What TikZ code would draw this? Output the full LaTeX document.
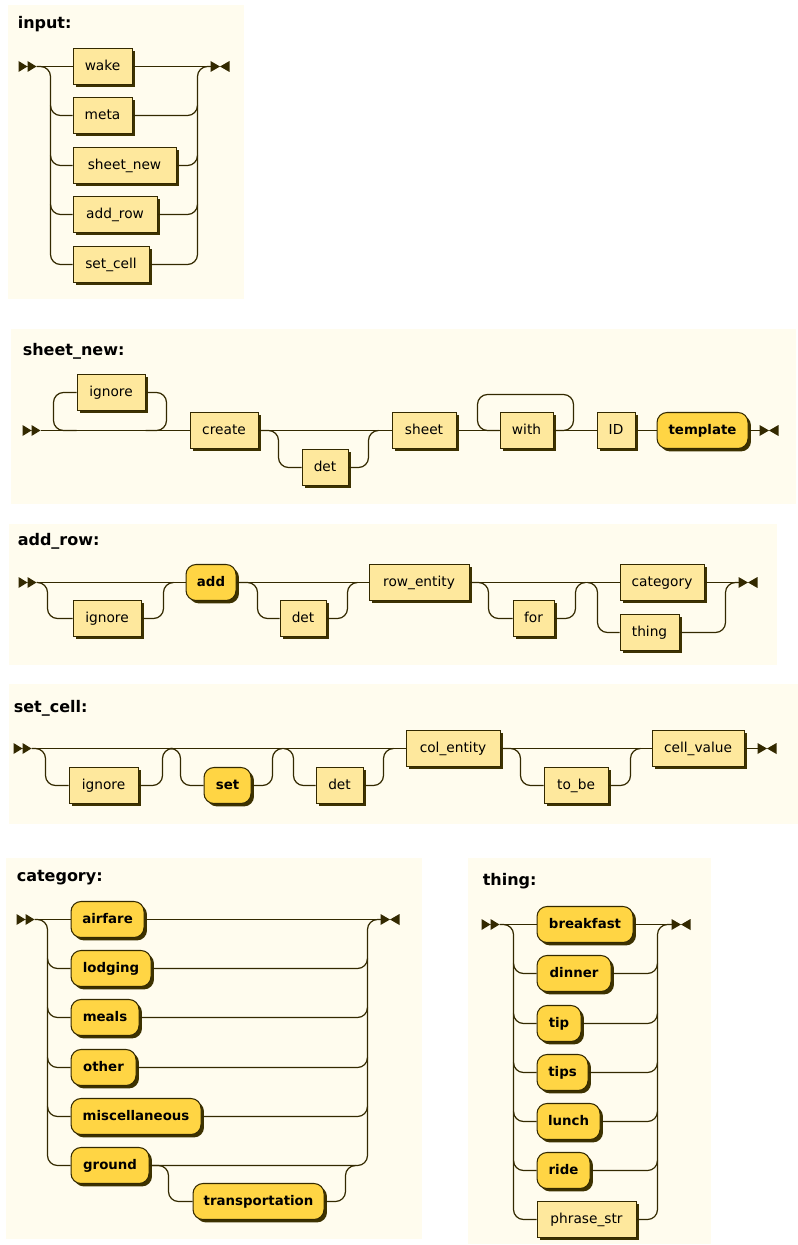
\documentclass[tikz,border=0pt]{standalone}
\usepackage{fontspec}
\setmainfont{DejaVu Sans}
\usepackage{tikz}
\usetikzlibrary{shadows}

\definecolor{bgc}{HTML}{FFFCEE}
\definecolor{linec}{HTML}{332900}
\definecolor{ntc}{HTML}{FEE89D}
\definecolor{termc}{HTML}{FFD544}
\definecolor{shadowc}{HTML}{3D3200}

\tikzset{
  startmark/.pic={\fill[linec] (0,-5.5) -- (9,0) -- (0,5.5) -- cycle (9,-5.5) -- (18,0) -- (9,5.5) -- cycle;
    \coordinate (-out) at (18,0);},
  endmark/.pic={\fill[linec] (0,-5.5) -- (9.5,0) -- (0,5.5) -- cycle (19,-5.5) -- (9.5,0) -- (19,5.5) -- cycle;
    \coordinate (-in) at (0,0);}
}

\begin{document}
\begin{tikzpicture}[x=0.75pt, y=-0.75pt,
  panel/.style={fill=bgc},
  title/.style={anchor=base west, inner sep=0pt, font=\bfseries\fontsize{12}{14}\selectfont},
  rail/.style={draw=linec, line width=0.9pt},
  railr/.style={rail, rounded corners=7.5pt},
  nt/.style={draw=linec, fill=ntc, line width=0.8pt, minimum height=27pt, inner xsep=0pt,
    anchor=west, text height=7.5pt, text depth=2pt, font=\fontsize{10.3}{12}\selectfont,
    general shadow={fill=shadowc, shadow xshift=2.2pt, shadow yshift=-2.2pt}},
  term/.style={nt, fill=termc, rounded corners=7.5pt, font=\bfseries\fontsize{10}{12}\selectfont},
  bw/.style={minimum width=#1*0.75pt}]
\fill[white] (0,0) rectangle (798,1245);
\useasboundingbox (0,0) rectangle (798,1245);
\begin{scope}[shift={(0.5,0.5)}]

% input
\fill[panel] (7,5) rectangle (243,298);
\node[title] at (17,28) {input:};
\pic (inS) at (18,66) {startmark};
\pic (inE) at (210,66) {endmark};
\coordinate (inL) at (50,66);
\coordinate (inR) at (197,66);
\node[nt, bw=59] (wake) at (72,66) {wake};
\node[nt, bw=59] (meta) at (72,115) {meta};
\node[nt, bw=103] (sheetnew) at (72,165) {sheet\_new};
\node[nt, bw=84] (addrow) at (72,214) {add\_row};
\node[nt, bw=76] (setcell) at (72,264) {set\_cell};
\draw[rail] (inS-out) -- (wake.west);
\draw[rail] (wake.east) -- (inE-in);
\draw[railr] (inS-out) -| (inL |- setcell) -- (setcell.west);
\draw[railr] (setcell.east) -| (inR) -- (inE-in);
\draw[railr] (inL |- meta) ++(0,-10) -- (inL |- meta) -- (meta.west);
\draw[railr] (inL |- sheetnew) ++(0,-10) -- (inL |- sheetnew) -- (sheetnew.west);
\draw[railr] (inL |- addrow) ++(0,-10) -- (inL |- addrow) -- (addrow.west);
\draw[railr] (meta.east) -- (inR |- meta) -- ++(0,-10);
\draw[railr] (sheetnew.east) -- (inR |- sheetnew) -- ++(0,-10);
\draw[railr] (addrow.east) -- (inR |- addrow) -- ++(0,-10);

% sheet_new
\fill[panel] (10,328) rectangle (795,503);
\node[title] at (22,355) {sheet\_new:};
\pic (snS) at (22,430) {startmark};
\pic (snE) at (759,430) {endmark};
\coordinate (snL) at (53,430);
\coordinate (snR) at (166,430);
\coordinate (snA) at (278,430);
\coordinate (snB) at (368,430);
\coordinate (snWL) at (477,394);
\coordinate (snWR) at (573,394);
\node[nt, bw=68] (snIgnore) at (76,392) {ignore};
\node[nt, bw=68] (create) at (189,430) {create};
\node[nt, bw=46] (snDet) at (301,467) {det};
\node[nt, bw=64] (sheet) at (391,430) {sheet};
\node[nt, bw=53] (with) at (499,430) {with};
\node[nt, bw=38] (id) at (596,430) {ID};
\node[term, bw=91] (template) at (656,430) {template};
\draw[rail] (snS-out) -- (create.west);
\draw[railr] (snIgnore.west |- snL) -- (snL) |- (snIgnore.west);
\draw[railr] (snIgnore.east) -| (snR) -- (snIgnore.east |- snR);
\draw[rail] (create.east) -- (sheet.west);
\draw[railr] (create.east) -| (snA |- snDet) -- (snDet.west);
\draw[railr] (snDet.east) -| (snB) -- ++(10,0);
\draw[rail] (sheet.east) -- (with.west);
\draw[railr] (with.west) -| (snWL) -- (snWR) |- (with.east);
\draw[rail] (with.east) -- (id.west);
\draw[rail] (id.east) -- (template.west);
\draw[rail] (template.east) -- (snE-in);

% add_row
\fill[panel] (8,523) rectangle (776,664);
\node[title] at (17,545) {add\_row:};
\pic (arS) at (18,582) {startmark};
\pic (arE) at (738,582) {endmark};
\coordinate (arA) at (47,582);
\coordinate (arB) at (163,582);
\coordinate (arC) at (257,582);
\coordinate (arD) at (347,582);
\coordinate (arF) at (488,582);
\coordinate (arG) at (575,582);
\coordinate (arH) at (597,582);
\coordinate (arK) at (725,582);
\node[nt, bw=68] (arIgnore) at (72,618) {ignore};
\node[term, bw=50] (add) at (185,582) {add};
\node[nt, bw=46] (arDet) at (279,618) {det};
\node[nt, bw=100] (rowentity) at (368,582) {row\_entity};
\node[nt, bw=41] (arFor) at (512,618) {for};
\node[nt, bw=84] (category) at (619,582) {category};
\node[nt, bw=59] (thing) at (619,632) {thing};
\draw[rail] (arS-out) -- (add.west);
\draw[railr] (arS-out) -| (arA |- arIgnore) -- (arIgnore.west);
\draw[railr] (arIgnore.east) -| (arB) -- ++(10,0);
\draw[rail] (add.east) -- (rowentity.west);
\draw[railr] (add.east) -| (arC |- arDet) -- (arDet.west);
\draw[railr] (arDet.east) -| (arD) -- ++(10,0);
\draw[rail] (rowentity.east) -- (category.west);
\draw[railr] (rowentity.east) -| (arF |- arFor) -- (arFor.west);
\draw[railr] (arFor.east) -| (arG) -- ++(10,0);
\draw[railr] (arH) ++(-10,0) -| (arH |- thing) -- (thing.west);
\draw[rail] (category.east) -- (arE-in);
\draw[railr] (thing.east) -| (arK) -- (arE-in);

% set_cell
\fill[panel] (8,683) rectangle (797,823);
\node[title] at (13,712) {set\_cell:};
\pic (scS) at (13,748) {startmark};
\pic (scE) at (757,748) {endmark};
\coordinate (scA) at (45,748);
\coordinate (scB) at (162,748);
\coordinate (scC) at (180,748);
\coordinate (scD) at (272,748);
\coordinate (scF) at (293,748);
\coordinate (scG) at (383,748);
\coordinate (scH) at (520,748);
\coordinate (scK) at (630,748);
\node[nt, bw=69] (scIgnore) at (68,785) {ignore};
\node[term, bw=47] (set) at (203,785) {set};
\node[nt, bw=47] (scDet) at (315,785) {det};
\node[nt, bw=94] (colentity) at (405,748) {col\_entity};
\node[nt, bw=64] (tobe) at (543,785) {to\_be};
\node[nt, bw=92] (cellvalue) at (651,748) {cell\_value};
\draw[rail] (scS-out) -- (colentity.west);
\draw[railr] (scS-out) -| (scA |- scIgnore) -- (scIgnore.west);
\draw[railr] (scIgnore.east) -| (scB) -- ++(8,0);
\draw[railr] (scC) ++(-8,0) -| (scC |- set) -- (set.west);
\draw[railr] (set.east) -| (scD) -- ++(10,0);
\draw[railr] (scF) ++(-10,0) -| (scF |- scDet) -- (scDet.west);
\draw[railr] (scDet.east) -| (scG) -- ++(10,0);
\draw[rail] (colentity.east) -- (cellvalue.west);
\draw[railr] (colentity.east) -| (scH |- tobe) -- (tobe.west);
\draw[railr] (tobe.east) -| (scK) -- ++(10,0);
\draw[rail] (cellvalue.east) -- (scE-in);

% category
\fill[panel] (5,857) rectangle (421,1238);
\node[title] at (16,881) {category:};
\pic (caS) at (16,919) {startmark};
\pic (caE) at (380,919) {endmark};
\coordinate (caL) at (47,919);
\coordinate (caR) at (367,919);
\coordinate (caT) at (168,1165);
\coordinate (caU) at (345,1165);
\node[term, bw=73] (airfare) at (70,919) {airfare};
\node[term, bw=80] (lodging) at (70,968) {lodging};
\node[term, bw=68] (meals) at (70,1017) {meals};
\node[term, bw=65] (other) at (70,1067) {other};
\node[term, bw=130] (misc) at (70,1116) {miscellaneous};
\node[term, bw=78] (ground) at (70,1165) {ground};
\node[term, bw=131] (transp) at (192,1201) {transportation};
\draw[rail] (caS-out) -- (airfare.west);
\draw[rail] (airfare.east) -- (caE-in);
\draw[railr] (caS-out) -| (caL |- ground) -- (ground.west);
\draw[railr] (ground.east) -| (caR) -- (caE-in);
\draw[railr] (caL |- lodging) ++(0,-10) -- (caL |- lodging) -- (lodging.west);
\draw[railr] (caL |- meals) ++(0,-10) -- (caL |- meals) -- (meals.west);
\draw[railr] (caL |- other) ++(0,-10) -- (caL |- other) -- (other.west);
\draw[railr] (caL |- misc) ++(0,-10) -- (caL |- misc) -- (misc.west);
\draw[railr] (lodging.east) -- (caR |- lodging) -- ++(0,-10);
\draw[railr] (meals.east) -- (caR |- meals) -- ++(0,-10);
\draw[railr] (other.east) -- (caR |- other) -- ++(0,-10);
\draw[railr] (misc.east) -- (caR |- misc) -- ++(0,-10);
\draw[railr] (ground.east) -| (caT |- transp) -- (transp.west);
\draw[railr] (transp.east) -| (caU) -- ++(10,0);

% thing
\fill[panel] (467,857) rectangle (710,1243);
\node[title] at (482,885) {thing:};
\pic (thS) at (481,924) {startmark};
\pic (thE) at (671,924) {endmark};
\coordinate (thL) at (513,924);
\coordinate (thR) at (657,924);
\node[term, bw=96] (breakfast) at (536,924) {breakfast};
\node[term, bw=74] (dinner) at (536,973) {dinner};
\node[term, bw=44] (tip) at (536,1023) {tip};
\node[term, bw=51] (tips) at (536,1072) {tips};
\node[term, bw=63] (lunch) at (536,1121) {lunch};
\node[term, bw=53] (ride) at (536,1170) {ride};
\node[nt, bw=99] (phrasestr) at (536,1219) {phrase\_str};
\draw[rail] (thS-out) -- (breakfast.west);
\draw[rail] (breakfast.east) -- (thE-in);
\draw[railr] (thS-out) -| (thL |- phrasestr) -- (phrasestr.west);
\draw[railr] (phrasestr.east) -| (thR) -- (thE-in);
\draw[railr] (thL |- dinner) ++(0,-10) -- (thL |- dinner) -- (dinner.west);
\draw[railr] (thL |- tip) ++(0,-10) -- (thL |- tip) -- (tip.west);
\draw[railr] (thL |- tips) ++(0,-10) -- (thL |- tips) -- (tips.west);
\draw[railr] (thL |- lunch) ++(0,-10) -- (thL |- lunch) -- (lunch.west);
\draw[railr] (thL |- ride) ++(0,-10) -- (thL |- ride) -- (ride.west);
\draw[railr] (dinner.east) -- (thR |- dinner) -- ++(0,-10);
\draw[railr] (tip.east) -- (thR |- tip) -- ++(0,-10);
\draw[railr] (tips.east) -- (thR |- tips) -- ++(0,-10);
\draw[railr] (lunch.east) -- (thR |- lunch) -- ++(0,-10);
\draw[railr] (ride.east) -- (thR |- ride) -- ++(0,-10);
\end{scope}
\end{tikzpicture}
\end{document}
